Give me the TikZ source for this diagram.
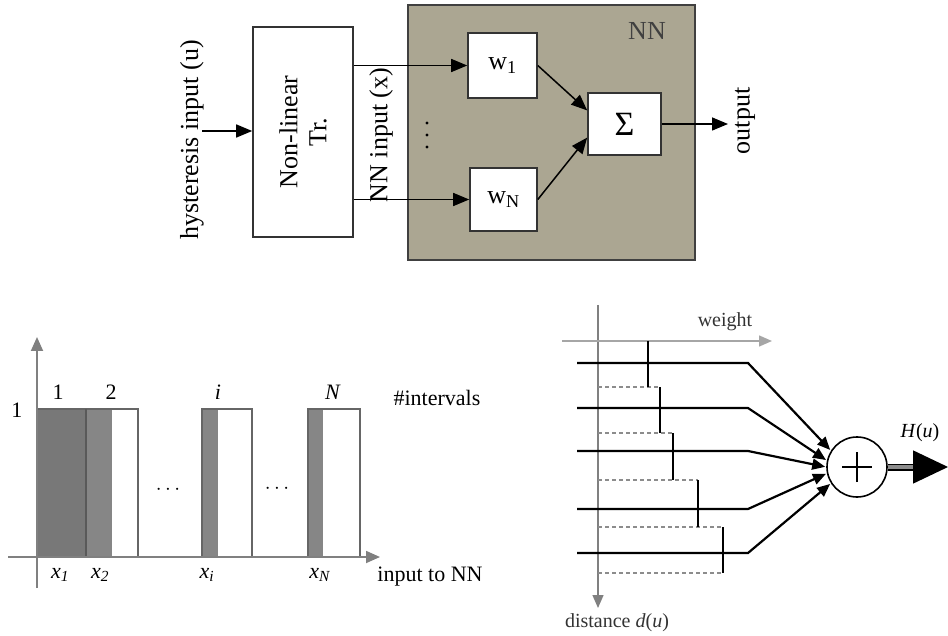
\documentclass[tikz,border=0pt]{standalone}
\usepackage{fontspec}
\setmainfont{Liberation Serif}
\usetikzlibrary{arrows.meta}
\definecolor{nnolive}{RGB}{171,166,146}
\definecolor{bardark}{RGB}{120,120,120}
\definecolor{barmid}{RGB}{134,134,134}

\begin{document}
\begin{tikzpicture}[x=1pt,y=-1pt,line join=miter,
  font=\fontsize{26}{29}\selectfont,
  blk/.style={draw=black!80,fill=white,line width=1.6pt,inner sep=0pt},
  sig/.style={-{Triangle[length=16pt,width=13pt]},line width=1.5pt},
  chartlbl/.style={font=\fontsize{22}{24}\selectfont},
  wlbl/.style={font=\fontsize{20}{22}\selectfont},
  axisg/.style={black!50,line width=1.8pt,-{Triangle[length=14pt,width=12pt]}},
  barline/.style={draw=black!60,line width=1.6pt},
  wline/.style={line width=2.2pt,-{Triangle[length=13pt,width=11pt]},shorten >=1pt},
  tickline/.style={line width=2.4pt},
  dashg/.style={black!45,line width=1.4pt,dash pattern=on 4pt off 3pt}]
\useasboundingbox (0,0) rectangle (948,636);
% block diagram
\node[draw=black!75,fill=nnolive,line width=1.6pt,minimum width=287,minimum height=255,inner sep=0pt] (nn) at (551.5,132.5) {};
\node[text=black!75] (nnlbl) at (647,31) {NN};
\node[blk,minimum width=100,minimum height=210] (nonlin) at (303,132) {};
\node[rotate=90,align=center] (nonlintxt) at (nonlin.center) {Non-linear\\Tr.};
\node[blk,minimum width=69,minimum height=65] (w1) at (502.5,65.5) {w\textsubscript{1}};
\node[blk,minimum width=67,minimum height=63] (wN) at (503.5,199.5) {w\textsubscript{N}};
\node[blk,minimum width=73,minimum height=62,font=\fontsize{34}{36}\selectfont] (sum) at (624.5,124) {Σ};
\node[rotate=90] (ulbl) at (192,140) {hysteresis input (u)};
\coordinate (uin) at (202,131);
\draw[sig] (uin) -- (uin -| nonlin.west);
\node[rotate=90] (xlbl) at (381,135) {NN input (x)};
\draw[sig] (nonlin.east |- w1.west) -- (w1.west);
\draw[sig] (nonlin.east |- wN.west) -- (wN.west);
\draw[sig] (w1.east) -- (sum.160);
\draw[sig] (wN.east) -- (sum.200);
\coordinate (yout) at (728,124);
\draw[sig] (sum.east) -- (yout);
\node[rotate=90] (ylbl) at (745,121) {output};
\fill (427,123) circle (1.6);
\fill (427,135) circle (1.6);
\fill (427,147) circle (1.6);
% interval chart
\fill[bardark] (37,409) rectangle (86,557);
\fill[barmid] (86,409) rectangle (112,557);
\draw[barline] (37,409) rectangle (138,557);
\draw[black!65,line width=1.8pt] (86,409) -- (86,557);
\fill[barmid] (202,409) rectangle (218,557);
\draw[barline] (202,409) rectangle (252,557);
\fill[barmid] (308,409) rectangle (323,557);
\draw[barline] (308,409) rectangle (360,557);
\draw[axisg] (37,588) -- (37,337);
\draw[axisg] (8,557) -- (380,557);
\node[chartlbl] (n1) at (58,392) {1};
\node[chartlbl] (n2) at (111,392) {2};
\node[chartlbl] (ni) at (218,392) {\textit{i}};
\node[chartlbl] (nN) at (333,392) {\textit{N}};
\node[chartlbl] (nint) at (437,398) {\#intervals};
\node[chartlbl] (one) at (17,410) {1};
\node[chartlbl] (dots1) at (168,490) {$\cdots$};
\node[chartlbl] (dots2) at (277,489) {$\cdots$};
\node[chartlbl] (xa) at (60,575) {\textit{x}\textsubscript{\textit{1}}};
\node[chartlbl] (xb) at (100,575) {\textit{x}\textsubscript{\textit{2}}};
\node[chartlbl] (xc) at (207,575) {\textit{x}\textsubscript{\textit{i}}};
\node[chartlbl] (xd) at (320,575) {\textit{x}\textsubscript{\textit{N}}};
\node[chartlbl] (inlbl) at (430,577) {input to NN};
% weighted distance sum
\draw[black!50,line width=1.4pt,-{Triangle[length=13pt,width=11pt]}] (598,305) -- (598,608);
\draw[black!35,line width=1.4pt,-{Triangle[length=13pt,width=11pt]}] (562,341) -- (772,341);
\node[wlbl,text=black!80] (wtlbl) at (725,322) {weight};
\node[wlbl,text=black!80] (dlbl) at (617,623) {distance \textit{d}(\textit{u})};
\draw[dashg] (598,387) -- (660,387);
\draw[dashg] (598,433) -- (673,433);
\draw[dashg] (598,480) -- (698,480);
\draw[dashg] (598,527) -- (723,527);
\draw[dashg] (598,573) -- (723,573);
\draw[tickline] (648,341) -- (648,387);
\draw[tickline] (660,387) -- (660,433);
\draw[tickline] (673,433) -- (673,480);
\draw[tickline] (698,480) -- (698,527);
\draw[tickline] (723,527) -- (723,573);
\node[draw,circle,line width=1.6pt,minimum size=60,inner sep=0pt] (sumc) at (857,467) {};
\draw[line width=1.8pt] ([xshift=-15pt]sumc.center) -- ([xshift=15pt]sumc.center);
\draw[line width=1.8pt] ([yshift=-15pt]sumc.center) -- ([yshift=15pt]sumc.center);
\coordinate (l1) at (577,363); \coordinate (k1) at (748,363);
\coordinate (l2) at (577,408); \coordinate (k2) at (748,408);
\coordinate (l3) at (577,451); \coordinate (k3) at (748,451);
\coordinate (l4) at (577,509); \coordinate (k4) at (748,509);
\coordinate (l5) at (577,553); \coordinate (k5) at (748,553);
\draw[wline] (l1) -- (k1) -- (sumc.148);
\draw[wline] (l2) -- (k2) -- (sumc.168);
\draw[wline] (l3) -- (k3) -- (sumc.180);
\draw[wline] (l4) -- (k4) -- (sumc.192);
\draw[wline] (l5) -- (k5) -- (sumc.212);
\coordinate (hout) at (948,467);
\draw[line width=1.5pt,double=black!45,double distance=4pt,-{Triangle[length=35pt,width=33pt]}] (sumc.east) -- (hout);
\node[wlbl] (hlbl) at (920,433) {\textit{H}(\textit{u})};
\end{tikzpicture}
\end{document}
